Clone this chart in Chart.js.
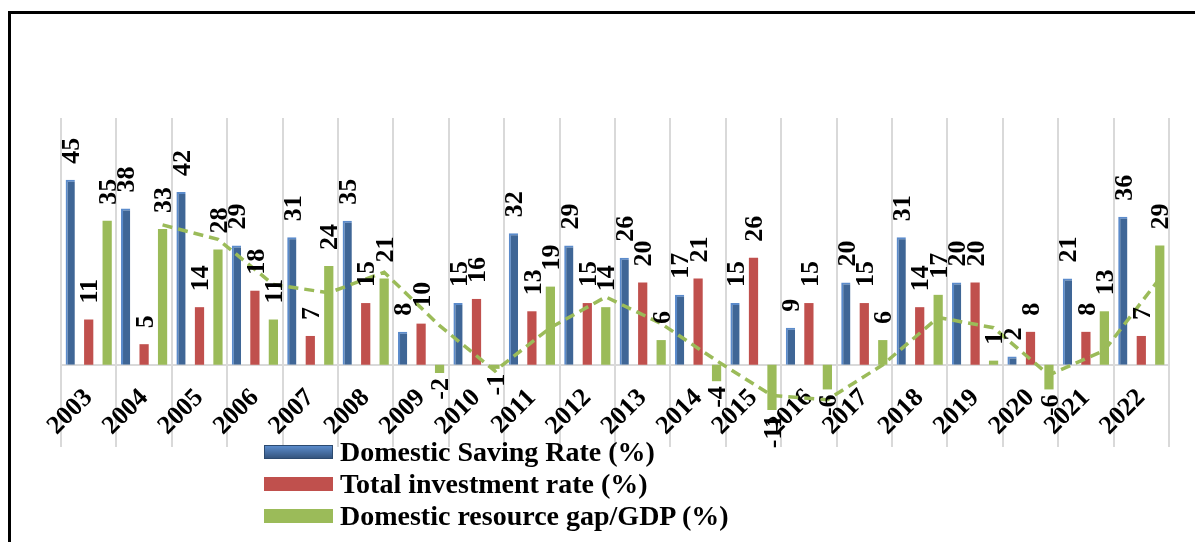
<!DOCTYPE html>
<html>
<head>
<meta charset="utf-8">
<script src="https://cdn.jsdelivr.net/npm/chart.js@4/dist/chart.umd.min.js"></script>
<style>
  html, body { margin: 0; padding: 0; background: #fff; }
  #wrap { position: relative; width: 1195px; height: 542px; overflow: hidden; }
  #frame { position: absolute; left: 8px; top: 11px; width: 1300px; height: 600px;
           border-left: 3px solid #000; border-top: 3px solid #000; }
  #legend { position: absolute; left: 264px; top: 436px;
            font: bold 28px "Liberation Serif", "Times New Roman", serif; color: #000; }
  .row { display: flex; align-items: center; height: 32px; }
  .sw { width: 69px; height: 14px; margin-right: 7px; box-sizing: border-box; }
</style>
</head>
<body>
<div id="wrap">
  <div id="frame"></div>
  <canvas id="bar-chart" width="1195" height="542"></canvas>
  <div id="legend"></div>
</div>
<script>
/* data */
const years = ["2003","2004","2005","2006","2007","2008","2009","2010","2011","2012",
               "2013","2014","2015","2016","2017","2018","2019","2020","2021","2022"];
const savingRate = [45, 38, 42, 29, 31, 35, 8, 15, 32, 29, 26, 17, 15, 9, 20, 31, 20, 2, 21, 36];
const investmentRate = [11, 5, 14, 18, 7, 15, 10, 16, 13, 15, 20, 21, 26, 15, 15, 14, 20, 8, 8, 7];
const resourceGap = [35, 33, 28, 11, 24, 21, -2, -1, 19, 14, 6, -4, -11, -6, 6, 17, 1, -6, 13, 29];
// 2-period moving average trendline of the gap, as drawn (starts at 2004)
const gapTrend = [null, 34, 30.5, 19.5, 17.5, 22.5, 9.5, -1.5, 9, 16.5, 10, 1, -7.5, -8.5, 0, 11.5, 9, -2.5, 3.5, 21];

const seriesNames = ["Domestic Saving Rate (%)", "Total investment rate (%)", "Domestic resource gap/GDP (%)"];
const blue = "#3F6696", red = "#C0504D", green = "#9BBB59";
const serif = '"Liberation Serif", "Times New Roman", serif';

/* value labels, rotated like the original */
const barLabels = {
  id: 'barLabels',
  afterDatasetsDraw(chart) {
    const ctx = chart.ctx;
    ctx.save();
    ctx.font = 'bold 26px ' + serif;
    ctx.fillStyle = '#000';
    ctx.textBaseline = 'middle';
    chart.data.datasets.forEach((ds, di) => {
      if (ds.type === 'line') return;
      chart.getDatasetMeta(di).data.forEach((bar, i) => {
        const v = ds.data[i];
        ctx.save();
        ctx.translate(bar.x + 2, v >= 0 ? bar.y - 16 : bar.y + 5);
        ctx.rotate(-Math.PI / 2);
        ctx.textAlign = v >= 0 ? 'left' : 'right';
        ctx.fillText(String(v), 0, 0);
        ctx.restore();
      });
    });
    ctx.restore();
  }
};

/* the trendline points sit over the green bar (third of each group) */
const shiftTrend = {
  id: 'shiftTrend',
  beforeDatasetDraw(chart, args) {
    if (chart.data.datasets[args.index].type !== 'line') return;
    const x = chart.scales.x;
    const dx = (x.getPixelForValue(1) - x.getPixelForValue(0)) / 3;
    chart.ctx.save();
    chart.ctx.translate(dx, 0);
  },
  afterDatasetDraw(chart, args) {
    if (chart.data.datasets[args.index].type !== 'line') return;
    chart.ctx.restore();
  }
};

new Chart(document.getElementById("bar-chart"), {
  type: 'bar',
  data: {
    labels: years,
    datasets: [
      { label: seriesNames[0], data: savingRate, backgroundColor: blue, borderColor: '#5B8BCB', borderWidth: { left: 2, top: 2 } },
      { label: seriesNames[1], data: investmentRate, backgroundColor: red },
      { label: seriesNames[2], data: resourceGap, backgroundColor: green },
      { type: 'line', label: 'trend', data: gapTrend, order: -1,
        borderColor: green, borderWidth: 3.5, borderDash: [10, 6], pointRadius: 0, tension: 0, fill: false }
    ]
  },
  options: {
    responsive: false,
    animation: false,
    datasets: { bar: { categoryPercentage: 1.0, barPercentage: 0.5 } },
    layout: { padding: { left: 61, right: 26, top: 118, bottom: 95 } },
    plugins: { legend: { display: false }, tooltip: { enabled: false } },
    scales: {
      x: {
        position: { y: 0 },
        grid: { color: '#d9d9d9', lineWidth: 2, drawTicks: false },
        border: { color: '#d9d9d9', width: 2 },
        ticks: {
          autoSkip: false, maxRotation: 45, minRotation: 45, padding: 18, color: '#000',
          font: { family: serif, size: 26, weight: 'bold' }
        }
      },
      y: { display: false, min: -20, max: 60 }
    }
  },
  plugins: [barLabels, shiftTrend]
});

/* legend, stacked like the original */
const swatches = [
  'background: linear-gradient(#5B8BCB, #35557F); border: 1px solid #2c4a70;',
  'background: ' + red + ';',
  'background: ' + green + ';'
];
document.getElementById('legend').innerHTML = seriesNames.map((n, i) =>
  '<div class="row"><span class="sw" style="' + swatches[i] + '"></span>' + n + '</div>').join('');
</script>
</body>
</html>
